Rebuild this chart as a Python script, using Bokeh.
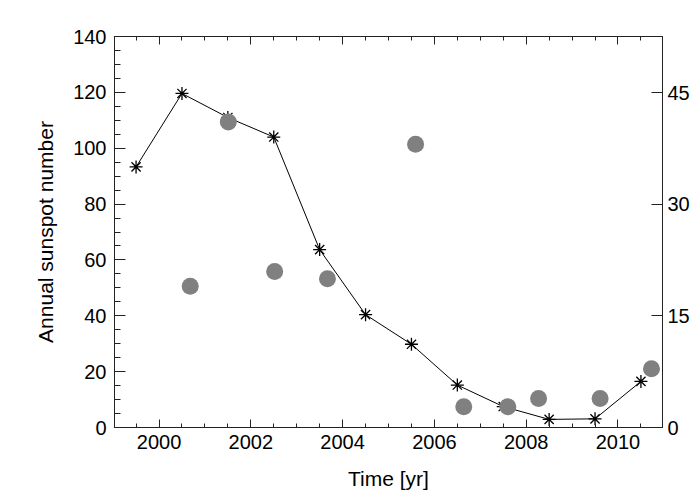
from bokeh.plotting import figure
from bokeh.models import Range1d, LinearAxis, SingleIntervalTicker, ColumnDataSource, CustomJSTickFormatter
from bokeh.embed import file_html
from bokeh.resources import INLINE

# Annual sunspot number (stars, left axis)
ssn_years = [1999.5, 2000.5, 2001.5, 2002.5, 2003.5, 2004.5, 2005.5,
             2006.5, 2007.5, 2008.5, 2009.5, 2010.5]
ssn_values = [93.3, 119.6, 111.0, 104.0, 63.7, 40.4, 29.8,
              15.2, 7.5, 2.9, 3.1, 16.5]

# Second series (grey circles, right axis)
dot_years = [2000.68, 2001.51, 2002.52, 2003.67, 2005.59,
             2006.64, 2007.60, 2008.27, 2009.61, 2010.73]
dot_values = [19.0, 41.1, 21.0, 20.0, 38.1,
              2.8, 2.8, 3.9, 3.9, 7.9]

x_label = "Time [yr]"
y_label = "Annual sunspot number"

FONT = "Liberation Sans"
TICK_FS = "20px"
LABEL_FS = "21px"

p = figure(width=692, height=492, output_backend="svg", toolbar_location=None,
           x_range=Range1d(1999.03, 2010.97), y_range=Range1d(0, 140),
           min_border_left=114, min_border_right=26, min_border_top=36,
           min_border_bottom=65, x_axis_location=None, y_axis_location=None)
p.grid.visible = False
p.outline_line_color = "#222222"
p.outline_line_width = 1
p.background_fill_color = "white"
p.border_fill_color = "white"

p.extra_y_ranges = {"right": Range1d(0, 52.6)}


def style(ax, tin, mtin):
    ax.axis_line_color = "#222222"
    ax.major_tick_line_color = "#222222"
    ax.minor_tick_line_color = "#222222"
    ax.major_tick_in = tin
    ax.major_tick_out = 0
    ax.minor_tick_in = mtin
    ax.minor_tick_out = 0
    ax.major_label_text_font = FONT
    ax.major_label_text_font_size = TICK_FS
    ax.major_label_text_color = "black"
    ax.axis_label_text_font = FONT
    ax.axis_label_text_font_size = LABEL_FS
    ax.axis_label_text_font_style = "normal"
    ax.axis_label_text_color = "black"


xb = LinearAxis(ticker=SingleIntervalTicker(interval=2, num_minor_ticks=4),
                axis_label=x_label)
style(xb, 8, 4)
xb.major_label_standoff = 7
xb.axis_label_standoff = 15
p.add_layout(xb, "below")

xt = LinearAxis(ticker=SingleIntervalTicker(interval=2, num_minor_ticks=4),
                formatter=CustomJSTickFormatter(code="return ''"))
style(xt, 8, 4)
xt.major_label_standoff = 0
p.add_layout(xt, "above")

yl = LinearAxis(ticker=SingleIntervalTicker(interval=20, num_minor_ticks=4),
                axis_label=y_label)
style(yl, 11, 6)
yl.major_label_standoff = 8
yl.axis_label_standoff = 13
p.add_layout(yl, "left")

yr = LinearAxis(y_range_name="right",
                ticker=SingleIntervalTicker(interval=15, num_minor_ticks=0))
style(yr, 11, 0)
yr.minor_tick_line_color = None
yr.major_label_standoff = 5
p.add_layout(yr, "right")

ssn = ColumnDataSource(dict(x=ssn_years, y=ssn_values))
dots = ColumnDataSource(dict(x=dot_years, y=dot_values))

p.line("x", "y", source=ssn, line_color="black", line_width=1)
p.scatter("x", "y", source=ssn, marker="asterisk", size=13,
          line_color="black", line_width=1.3)
p.scatter("x", "y", source=dots, y_range_name="right", marker="circle",
          size=17, fill_color="#808080", line_color=None)

open("out.html", "w").write(file_html(p, INLINE))
